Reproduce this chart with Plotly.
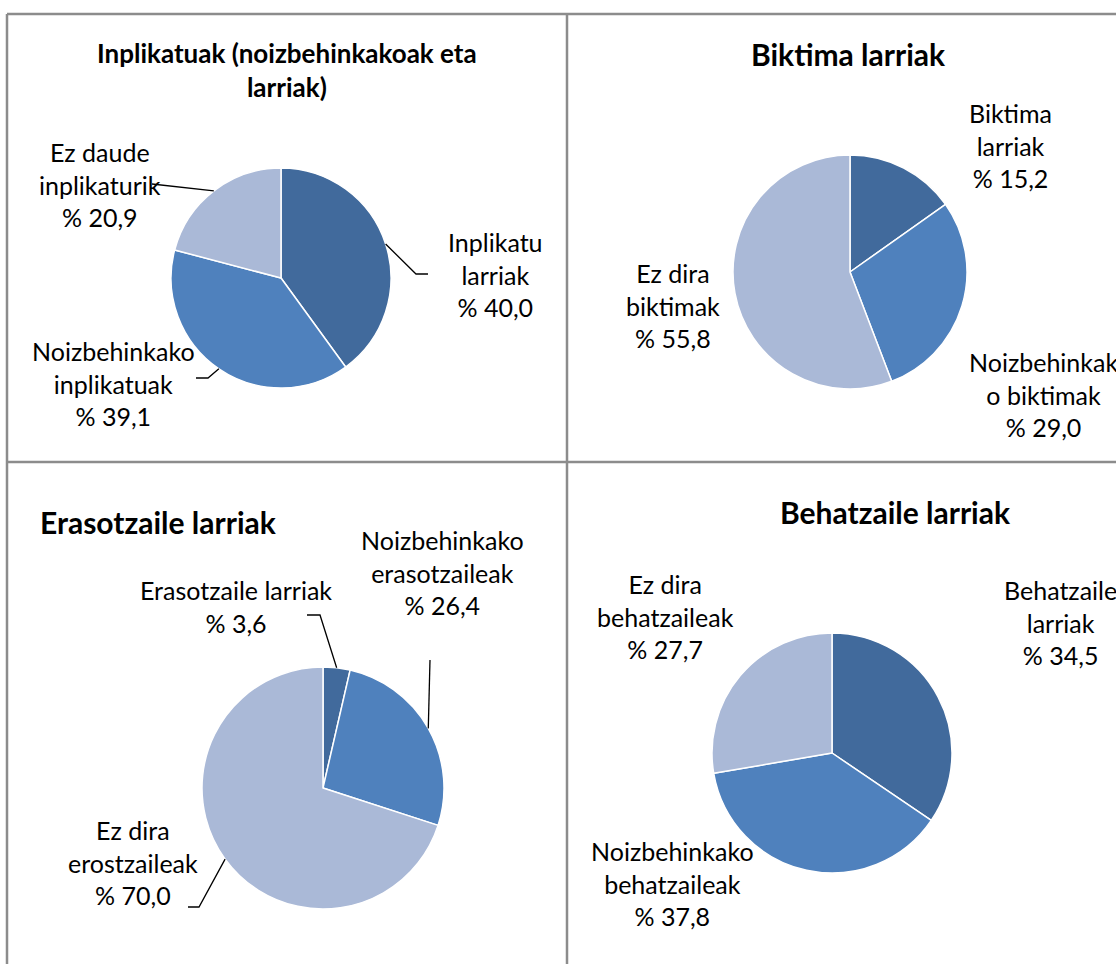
import math
import plotly.graph_objects as go

W, H = 1116, 964

# ---------------- data ----------------
titles = [
    "Inplikatuak (noizbehinkakoak eta<br>larriak)",
    "Biktima larriak",
    "Erasotzaile larriak",
    "Behatzaile larriak",
]
labels_1 = ["Inplikatu larriak", "Noizbehinkako inplikatuak", "Ez daude inplikaturik"]
values_1 = [40.0, 39.1, 20.9]
texts_1 = ["Inplikatu<br>larriak<br>% 40,0", "Noizbehinkako<br>inplikatuak<br>% 39,1",
           "Ez daude<br>inplikaturik<br>% 20,9"]

labels_2 = ["Biktima larriak", "Noizbehinkako biktimak", "Ez dira biktimak"]
values_2 = [15.2, 29.0, 55.8]
texts_2 = ["Biktima<br>larriak<br>% 15,2", "Noizbehinkak<br>o biktimak<br>% 29,0",
           "Ez dira<br>biktimak<br>% 55,8"]

labels_3 = ["Erasotzaile larriak", "Noizbehinkako erasotzaileak", "Ez dira erostzaileak"]
values_3 = [3.6, 26.4, 70.0]
texts_3 = ["Erasotzaile larriak<br>% 3,6", "Noizbehinkako<br>erasotzaileak<br>% 26,4",
           "Ez dira<br>erostzaileak<br>% 70,0"]

labels_4 = ["Behatzaile larriak", "Noizbehinkako behatzaileak", "Ez dira behatzaileak"]
values_4 = [34.5, 37.8, 27.7]
texts_4 = ["Behatzaile<br>larriak<br>% 34,5", "Noizbehinkako<br>behatzaileak<br>% 37,8",
           "Ez dira<br>behatzaileak<br>% 27,7"]

colors = ["#416A9C", "#4F81BD", "#AAB9D7"]

# ---------------- layout geometry (pixels) ----------------
pies = [
    dict(labels=labels_1, values=values_1, texts=texts_1, cx=281, cy=278, r=110,
         title_xy=(287, 70), title_anchor="center", title_size=26,
         label_xy=[(495, 274), (113, 384), (100, 185)],
         leaders=[[(416, 274), (428, 274)], [(208, 378), (196, 378)], [(152, 184)]]),
    dict(labels=labels_2, values=values_2, texts=texts_2, cx=850, cy=272, r=117,
         title_xy=(848, 54), title_anchor="center", title_size=30,
         label_xy=[(1010, 145), (1043, 394), (673, 305)],
         leaders=[None, None, None]),
    dict(labels=labels_3, values=values_3, texts=texts_3, cx=323, cy=788, r=121,
         title_xy=(38, 522), title_anchor="left", title_size=30,
         label_xy=[(236, 606), (442, 572), (133, 862)],
         leaders=[[(320, 615), (307, 615)], [(430, 660)], [(199, 907), (188, 907)]]),
    dict(labels=labels_4, values=values_4, texts=texts_4, cx=832, cy=753, r=120,
         title_xy=(895, 512), title_anchor="center", title_size=30,
         label_xy=[(1060, 622), (673, 883), (665, 616)],
         leaders=[None, None, None]),
]

FONT = "Lato, 'Open Sans', sans-serif"


def px(x):
    return x / W


def py(y):
    return 1 - y / H


fig = go.Figure()
annotations = []
shapes = []

for i, p in enumerate(pies):
    cx, cy, r = p["cx"], p["cy"], p["r"]
    fig.add_trace(go.Pie(
        labels=p["labels"], values=p["values"], sort=False, direction="clockwise",
        rotation=0, textinfo="none", hoverinfo="label+value",
        marker=dict(colors=colors, line=dict(color="white", width=1.5)),
        domain=dict(x=[px(cx - r), px(cx + r)], y=[py(cy + r), py(cy - r)]),
        showlegend=False,
    ))
    tx, ty = p["title_xy"]
    annotations.append(dict(
        x=px(tx), y=py(ty), xref="paper", yref="paper", text="<b>" + titles[i] + "</b>",
        showarrow=False, xanchor=p["title_anchor"], yanchor="middle",
        font=dict(family=FONT, size=p["title_size"], color="black"), align="center"))
    total = sum(p["values"])
    cum = 0
    for v, t, (lx, ly), lead in zip(p["values"], p["texts"], p["label_xy"], p["leaders"]):
        mid = (cum + v / 2) / total * 2 * math.pi
        cum += v
        annotations.append(dict(
            x=px(lx), y=py(ly), xref="paper", yref="paper", text=t, showarrow=False,
            xanchor="center", yanchor="middle", align="center",
            font=dict(family=FONT, size=25, color="black")))
        if lead:
            ex = cx + r * math.sin(mid)
            ey = cy - r * math.cos(mid)
            pts = [(ex, ey)] + lead
            path = "M " + " L ".join(f"{px(a):.5f},{py(b):.5f}" for a, b in pts)
            shapes.append(dict(type="path", path=path, xref="paper", yref="paper",
                               line=dict(color="black", width=1.3)))

grid = "#8C8C8C"
for (x0, y0, x1, y1) in [(7, 14, 1116, 14), (7, 14, 7, 964), (567, 14, 567, 964), (7, 462, 1116, 462)]:
    shapes.append(dict(type="line", xref="paper", yref="paper",
                       x0=px(x0), y0=py(y0), x1=px(x1), y1=py(y1),
                       line=dict(color=grid, width=2.5)))

fig.update_layout(
    width=W, height=H, margin=dict(l=0, r=0, t=0, b=0),
    paper_bgcolor="white", plot_bgcolor="white",
    annotations=annotations, shapes=shapes,
)

fig.write_html("out.html", config={"displayModeBar": False},
               post_script="document.body.style.margin='0';document.body.style.overflow='hidden';")
